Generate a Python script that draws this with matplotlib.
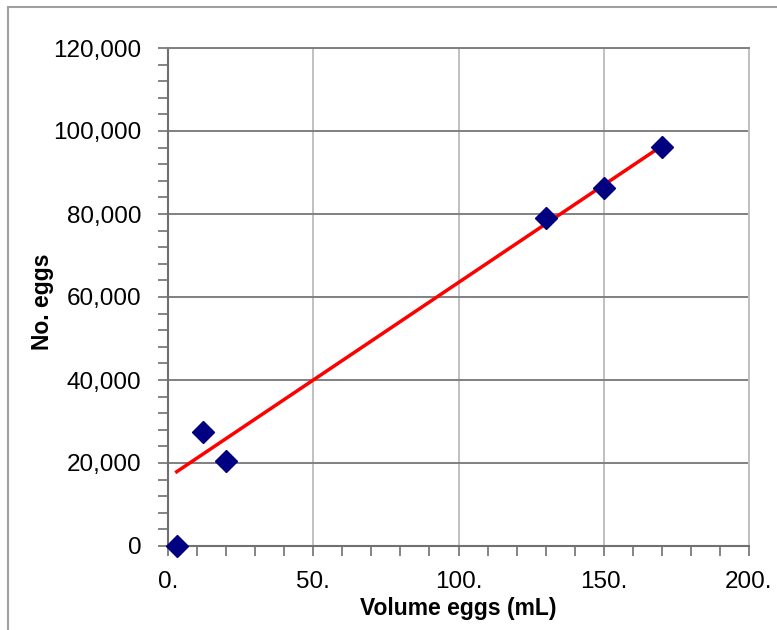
"""
Egg count versus egg volume, with linear trend line.
"""

import matplotlib.pyplot as plt
from matplotlib.patches import Rectangle
from matplotlib.ticker import FuncFormatter, MultipleLocator

plt.rcParams["font.family"] = ["Liberation Sans", "DejaVu Sans"]

# measured samples
volume_ml = [3, 12, 20, 130, 150, 170]
egg_count = [0, 27500, 20500, 79000, 86300, 96200]

# trend line end points as drawn
trend_x = [3, 170]
trend_y = [17900, 96400]

x_label = "Volume eggs (mL)"
y_label = "No. eggs"

if __name__ == "__main__":
    fig = plt.figure(figsize=(7.77, 6.3), dpi=100)
    ax = fig.add_axes([168 / 777, 84 / 630, 581 / 777, 498 / 630])

    # outer chart-area frame, cut off on right and bottom like the source
    fig.patches.append(Rectangle((8 / 777, -0.1), 1.2, 623 / 630 + 0.1,
                                 transform=fig.transFigure, fill=False,
                                 edgecolor="#a0a0a0", linewidth=1.5))

    ax.plot(trend_x, trend_y, color="#ff0000", linewidth=2.5, zorder=3)
    ax.plot(volume_ml, egg_count, linestyle="none", marker="D", markersize=11.5,
            color="#000080", zorder=4, clip_on=False)

    ax.set_xlim(0, 200)
    ax.set_ylim(0, 120000)
    ax.xaxis.set_major_locator(MultipleLocator(50))
    ax.xaxis.set_minor_locator(MultipleLocator(10))
    ax.yaxis.set_major_locator(MultipleLocator(20000))
    ax.yaxis.set_minor_locator(MultipleLocator(4000))
    ax.xaxis.set_major_formatter(FuncFormatter(lambda v, _: f"{v:.0f}."))
    ax.yaxis.set_major_formatter(FuncFormatter(lambda v, _: f"{v:,.0f}"))

    ax.tick_params(axis="both", which="both", direction="out", length=7,
                   width=1.2, color="#707070", labelsize=17.5)
    ax.tick_params(axis="y", which="major", pad=12)
    ax.tick_params(axis="x", which="major", pad=11)

    ax.grid(axis="y", which="major", color="#808080", linewidth=1.4)
    ax.grid(axis="x", which="major", color="#c0c0c0", linewidth=1.4)
    ax.set_axisbelow(True)

    for side in ("left", "bottom"):
        ax.spines[side].set_color("#707070")
        ax.spines[side].set_linewidth(1.5)
    ax.spines["top"].set_color("#808080")
    ax.spines["top"].set_linewidth(1.4)
    ax.spines["right"].set_color("#c0c0c0")
    ax.spines["right"].set_linewidth(1.4)

    ax.set_xlabel(x_label, fontsize=16.5, fontweight="bold", labelpad=3)
    ax.set_ylabel(y_label, fontsize=16.5, fontweight="bold")
    ax.yaxis.set_label_coords(-0.196, 0.49)

    fig.savefig("out.png", dpi=100)
